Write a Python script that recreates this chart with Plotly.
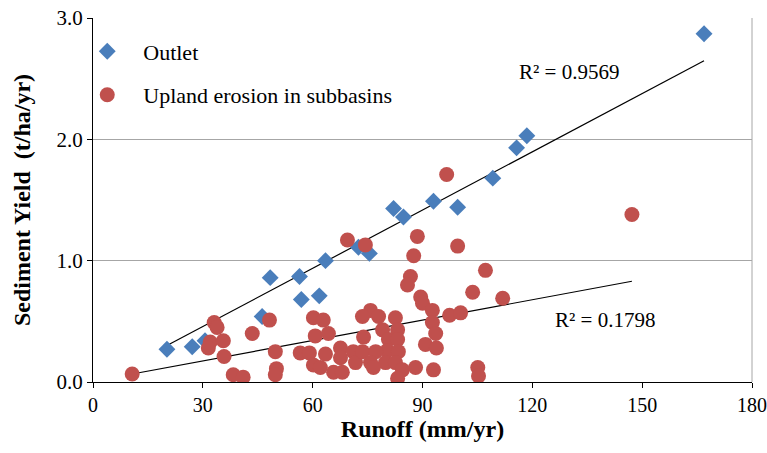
import plotly.graph_objects as go

outlet_x = [20.2, 27.1, 30.6, 46.2, 48.4, 56.4, 56.9, 61.8, 63.5, 72.5, 75.5,
            82.1, 84.8, 93.0, 99.6, 109.2, 115.7, 118.5, 166.9]
outlet_y = [0.27, 0.29, 0.34, 0.54, 0.86, 0.87, 0.68, 0.71, 1.00, 1.11, 1.06,
            1.43, 1.36, 1.49, 1.44, 1.68, 1.93, 2.03, 2.87]

upland_x = [10.7, 33.1, 33.9, 32.0, 31.5, 35.6, 35.8, 43.5, 48.2, 49.8, 50.1, 49.8,
            38.3, 41.0, 60.2, 62.9, 60.7, 64.3, 56.6, 59.1, 63.5, 67.6, 67.6, 71.1,
            60.2, 62.1, 65.7, 68.1, 71.7, 75.8, 73.6, 78.0, 82.6, 79.1, 83.2, 73.9,
            80.7, 83.2, 73.6, 80.4, 83.4, 77.2, 75.8, 79.9, 82.6, 76.6, 84.5, 88.1,
            83.2, 89.5, 90.0, 92.7, 90.8, 92.7, 93.0, 103.7, 97.4, 100.4, 111.9, 93.6,
            93.8, 105.1, 105.3, 87.6, 107.2, 86.7, 85.9, 69.5, 74.4, 96.6, 88.6, 99.6,
            147.2]
upland_y = [0.066, 0.49, 0.45, 0.33, 0.28, 0.34, 0.21, 0.40, 0.51, 0.25, 0.11, 0.06,
            0.06, 0.04, 0.53, 0.51, 0.38, 0.40, 0.24, 0.24, 0.23, 0.28, 0.20, 0.25,
            0.14, 0.12, 0.08, 0.08, 0.16, 0.59, 0.54, 0.54, 0.53, 0.43, 0.43, 0.37,
            0.35, 0.35, 0.25, 0.26, 0.25, 0.25, 0.16, 0.16, 0.16, 0.12, 0.10, 0.12,
            0.03, 0.70, 0.65, 0.59, 0.31, 0.49, 0.10, 0.74, 0.55, 0.57, 0.69, 0.40,
            0.28, 0.12, 0.05, 1.04, 0.92, 0.87, 0.80, 1.17, 1.13, 1.71, 1.20, 1.12,
            1.38]

# linear trendlines as drawn in the chart (slope, intercept)
outlet_trend = (0.0160, -0.023)
upland_trend = (0.0056, 0.006)

r2_labels = ["R² = 0.9569", "R² = 0.1798"]
x_ticks = [0, 30, 60, 90, 120, 150, 180]
y_ticks = [0.0, 1.0, 2.0, 3.0]

SERIF = "Liberation Serif, Times New Roman, serif"
BLUE = "#4A7EBB"
RED = "#C0504D"


def trend(x, coef):
    slope, icpt = coef
    xs = [min(x), max(x)]
    return xs, [icpt + slope * v for v in xs]


fig = go.Figure()

tx, ty = trend(outlet_x, outlet_trend)
fig.add_trace(go.Scatter(x=tx, y=ty, mode="lines", line=dict(color="black", width=1.2),
                         showlegend=False, hoverinfo="skip"))
tx2, ty2 = trend(upland_x, upland_trend)
fig.add_trace(go.Scatter(x=tx2, y=ty2, mode="lines", line=dict(color="black", width=1.2),
                         showlegend=False, hoverinfo="skip"))

fig.add_trace(go.Scatter(x=outlet_x, y=outlet_y, mode="markers", name="Outlet",
                         legendgroup="a",
                         marker=dict(symbol="diamond", size=13, color=BLUE)))
fig.add_trace(go.Scatter(x=upland_x, y=upland_y, mode="markers",
                         name="Upland erosion in subbasins", legendgroup="b",
                         marker=dict(symbol="circle", size=15, color=RED)))

fig.add_annotation(x=130, y=2.556, text=r2_labels[0], showarrow=False,
                   font=dict(family=SERIF, size=21, color="black"))
fig.add_annotation(x=139.8, y=0.51, text=r2_labels[1], showarrow=False,
                   font=dict(family=SERIF, size=21, color="black"))

# right border of plot area
fig.add_shape(type="line", xref="paper", yref="paper", x0=1, x1=1, y0=0, y1=1,
              line=dict(color="#A6A6A6", width=1))

fig.update_layout(
    width=767, height=453,
    margin=dict(l=93, r=15, t=18, b=71),
    paper_bgcolor="white", plot_bgcolor="white",
    font=dict(family=SERIF, size=16, color="black"),
    showlegend=True,
    legend=dict(x=-0.033, y=0.966, xanchor="left", yanchor="top",
                bgcolor="rgba(0,0,0,0)", font=dict(family=SERIF, size=22),
                traceorder="grouped", tracegroupgap=12, itemwidth=62),
    xaxis=dict(range=[0, 180], tickvals=x_ticks, ticktext=[str(v) for v in x_ticks],
               showgrid=False, zeroline=False, showline=True, linecolor="black",
               linewidth=1, ticks="outside", ticklen=5, tickcolor="black",
               automargin=False, ticklabeloverflow="allow",
               tickfont=dict(family=SERIF, size=20),
               title=dict(text="<b>Runoff (mm/yr)</b>", font=dict(family=SERIF, size=24),
                          standoff=4)),
    yaxis=dict(range=[0, 3.0], tickvals=y_ticks, ticktext=[f"{v:.1f}" for v in y_ticks],
               showgrid=True, gridcolor="#A6A6A6", gridwidth=1, zeroline=False,
               showline=True, linecolor="black", linewidth=1, ticks="outside",
               ticklen=5, tickcolor="black", automargin=False,
               tickfont=dict(family=SERIF, size=21),
               title=dict(text="<b>Sediment Yield  (t/ha/yr)</b>",
                          font=dict(family=SERIF, size=24), standoff=19)),
)

fig.write_html("out.html")
